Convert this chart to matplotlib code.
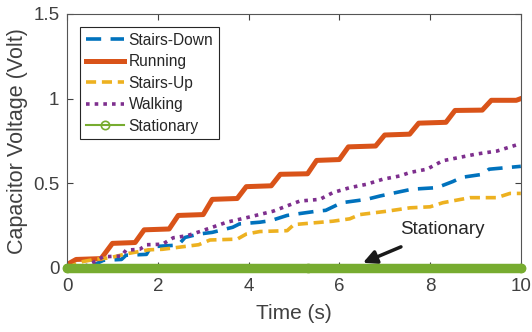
import matplotlib
matplotlib.use("Agg")
import matplotlib.pyplot as plt
from matplotlib.lines import Line2D

plt.rcParams['font.family'] = ['Liberation Sans', 'DejaVu Sans']

# ---- data ----
down_t = [0, 0.5, 0.8, 1.2, 1.3, 1.75, 1.85, 2.45, 2.6, 2.9, 3.2, 3.65, 3.8, 4.25, 4.5,
          4.85, 5.1, 5.5, 5.7, 6.05, 6.6, 6.9, 7.3, 7.6, 8.15, 8.5, 8.7, 9.16, 9.3, 10]
down_v = [0, 0.005, 0.045, 0.05, 0.075, 0.08, 0.125, 0.135, 0.18, 0.2, 0.21, 0.24, 0.26, 0.27, 0.28,
          0.31, 0.32, 0.335, 0.34, 0.385, 0.405, 0.425, 0.448, 0.465, 0.474, 0.51, 0.535, 0.553, 0.583, 0.6]

run_t = [0, 0.2, 0.75, 1.0, 1.5, 1.7, 2.25, 2.45, 3.0, 3.2, 3.75, 3.95, 4.5, 4.7, 5.3, 5.5,
         6.0, 6.2, 6.8, 7.0, 7.55, 7.75, 8.35, 8.55, 9.15, 9.35, 9.9, 10]
run_v = [0.02, 0.05, 0.055, 0.145, 0.15, 0.225, 0.23, 0.31, 0.315, 0.405, 0.41, 0.48, 0.485, 0.553, 0.556, 0.635,
         0.64, 0.715, 0.72, 0.785, 0.79, 0.855, 0.86, 0.93, 0.932, 0.99, 0.99, 1.0]

up_t = [0, 0.3, 0.6, 0.95, 1.3, 1.8, 2.1, 2.4, 2.9, 3.15, 3.75, 3.95, 4.25, 4.85, 5.0, 5.86,
        6.23, 6.45, 7.05, 7.56, 8.0, 8.28, 8.88, 9.47, 9.76, 10]
up_v = [0, 0.035, 0.05, 0.06, 0.083, 0.107, 0.11, 0.12, 0.137, 0.165, 0.17, 0.2, 0.215, 0.22, 0.256, 0.276,
        0.29, 0.315, 0.335, 0.355, 0.361, 0.385, 0.415, 0.415, 0.44, 0.44]

walk_t = [0, 0.3, 0.5, 0.8, 1.2, 1.3, 1.6, 1.76, 2.1, 2.34, 2.64, 2.93, 3.52, 3.96, 4.54, 5.13, 5.57,
          5.86, 6.23, 6.6, 6.96, 7.33, 7.56, 7.93, 8.28, 9.03, 9.47, 9.9, 10]
walk_v = [0, 0.005, 0.02, 0.066, 0.07, 0.105, 0.11, 0.137, 0.14, 0.178, 0.19, 0.215, 0.27, 0.297, 0.335, 0.395, 0.405,
          0.445, 0.474, 0.494, 0.524, 0.543, 0.564, 0.583, 0.633, 0.673, 0.69, 0.726, 0.73]

stat_t = [0, 10]
stat_v = [0, 0]
stat_marker_t = [0, 5.3, 10]
stat_marker_v = [0, 0, 0]

# MATLAB default colours
C_BLUE = '#0072BD'
C_ORANGE = '#D95319'
C_YELLOW = '#EDB120'
C_PURPLE = '#7E2F8E'
C_GREEN = '#77AC30'

fig = plt.figure(figsize=(5.32, 3.32), dpi=100)
ax = fig.add_axes([0.126, 0.193, 0.853, 0.765])

ax.plot(stat_t, stat_v, color=C_GREEN, lw=6.8, solid_capstyle='round', zorder=6, clip_on=False)
ax.plot(stat_marker_t, stat_marker_v, 'o', color=C_GREEN, ms=7.0, mfc=C_GREEN, mew=0,
        zorder=6, clip_on=False)

l_down, = ax.plot(down_t, down_v, color=C_BLUE, lw=2.6, dashes=(4.2, 2.6), label='Stairs-Down')
l_run, = ax.plot(run_t, run_v, color=C_ORANGE, lw=3.6, label='Running')
l_up, = ax.plot(up_t, up_v, color=C_YELLOW, lw=2.6, dashes=(2.8, 1.6), label='Stairs-Up')
l_walk, = ax.plot(walk_t, walk_v, color=C_PURPLE, lw=2.6, dashes=(1.0, 1.4), label='Walking')
l_stat = Line2D([0, 1, 2], [0, 0, 0], color=C_GREEN, lw=1.5, marker='o', ms=6, mfc='none', mew=1.2,
                markevery=[1], label='Stationary')

ax.set_xlim(0, 10)
ax.set_ylim(0, 1.5)
ax.set_xticks([0, 2, 4, 6, 8, 10])
ax.set_yticks([0, 0.5, 1, 1.5])
ax.set_yticklabels(['0', '0.5', '1', '1.5'])

tick_col = '#404040'
ax.tick_params(direction='in', length=4, width=0.8, top=True, right=True,
               labelsize=13.5, colors=tick_col)
ax.tick_params(axis='x', pad=7.5)
ax.tick_params(axis='y', pad=5.5)
for s in ax.spines.values():
    s.set_color('#555555')
    s.set_linewidth(0.8)

ax.set_xlabel('Time (s)', fontsize=15, color=tick_col, labelpad=6)
ax.set_ylabel('Capacitor Voltage (Volt)', fontsize=15.5, color=tick_col, labelpad=4)

leg = ax.legend(handles=[l_down, l_run, l_up, l_walk, l_stat], loc='upper left',
                fontsize=11.2, frameon=True, fancybox=False, framealpha=1,
                edgecolor='#262626', handlelength=2.45, handletextpad=0.3,
                labelspacing=0.42, borderpad=0.35, borderaxespad=0.85)
leg.get_frame().set_linewidth(0.8)
for t in leg.get_texts():
    t.set_color('#262626')

ax.annotate('Stationary', xy=(6.52, 0.03), xytext=(8.26, 0.226),
            fontsize=13.5, color='#262626', ha='center', va='center',
            arrowprops=dict(arrowstyle='-|>', color='#1a1a1a', lw=2.5,
                            mutation_scale=20, shrinkA=11, shrinkB=0))

fig.savefig('out.png', dpi=100)
